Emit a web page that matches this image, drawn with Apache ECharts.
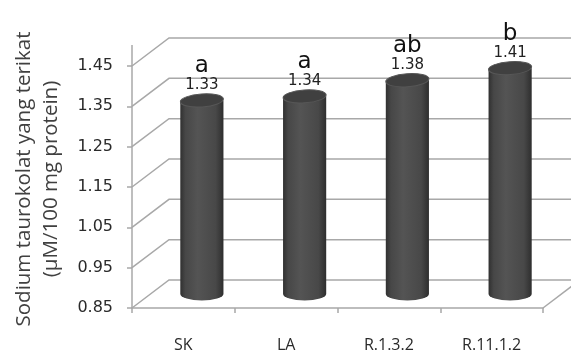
<!DOCTYPE html>
<html>
<head>
<meta charset="utf-8">
<script src="https://cdn.jsdelivr.net/npm/echarts@6/dist/echarts.min.js"></script>
<style>
  html, body { margin: 0; padding: 0; background: #fff; }
  #chart { width: 571px; height: 354px; }
</style>
</head>
<body>
<div id="chart"></div>
<script>
  var categories = ['SK', 'LA', 'R.1.3.2', 'R.11.1.2']
  var values = [1.33, 1.34, 1.38, 1.41]
  var letters = ['a', 'a', 'ab', 'b']
  var yTicks = [0.85, 0.95, 1.05, 1.15, 1.25, 1.35, 1.45]

  // depth of the fake 3D box (back wall offset)
  var DX = 37
  var DY = -28
  var gridColor = '#a8a8a8'

  var chart = echarts.init(document.getElementById('chart'))

  function renderWalls (params, api) {
    var cs = params.coordSys
    var y = api.coord([0, api.value(1)])[1]
    var left = cs.x
    var right = cs.x + cs.width
    var style = { stroke: gridColor, lineWidth: 1.5, fill: null }
    var children = [
      { type: 'polyline', shape: { points: [[left, y], [left + DX, y + DY], [right + DX, y + DY]] }, style: style }
    ]
    if (params.dataIndex === 0) {
      // right edge of the floor
      children.push({ type: 'line', shape: { x1: right, y1: y, x2: right + DX, y2: y + DY }, style: style })
    }
    if (params.dataIndex === yTicks.length - 1) {
      // front axis runs a bit above the top tick
      children.push({ type: 'line', shape: { x1: left, y1: y, x2: left, y2: y - 21 }, style: style })
    }
    return { type: 'group', children: children }
  }

  function renderBar (params, api) {
    var idx = api.value(0)
    var top = api.coord([idx, api.value(1)])
    var base = api.coord([idx, yTicks[0]])
    var w = api.size([1, 0])[0] * 0.42
    var rx = w / 2
    var ry = 6.5
    var cx = top[0] + DX / 2
    var ty = top[1] + DY / 2
    var by = base[1] + DY / 2
    var l = cx - rx
    var r = cx + rx
    var body = 'M' + l + ',' + ty + ' L' + l + ',' + by +
      ' A' + rx + ',' + ry + ' 0 0 0 ' + r + ',' + by +
      ' L' + r + ',' + ty + ' Z'
    var cap = 'M' + l + ',' + ty +
      ' A' + rx + ',' + ry + ' 0 1 0 ' + r + ',' + ty +
      ' A' + rx + ',' + ry + ' 0 1 0 ' + l + ',' + ty + ' Z'
    return {
      type: 'group',
      children: [
        {
          type: 'path',
          shape: { pathData: body },
          style: {
            fill: new echarts.graphic.LinearGradient(0, 0, 1, 0, [
              { offset: 0, color: '#303030' },
              { offset: 0.12, color: '#474747' },
              { offset: 0.4, color: '#545454' },
              { offset: 0.82, color: '#484848' },
              { offset: 1, color: '#2e2e2e' }
            ])
          }
        },
        {
          type: 'path',
          shape: { pathData: cap },
          rotation: 0.07,
          originX: cx,
          originY: ty,
          style: { fill: '#404040', stroke: '#575757', lineWidth: 1 }
        },
        {
          type: 'text',
          x: cx,
          y: ty - 8,
          style: {
            text: api.value(1).toFixed(2),
            fontFamily: 'DejaVu Sans',
            fontSize: 15,
            fill: '#222',
            align: 'center',
            verticalAlign: 'bottom'
          }
        },
        {
          type: 'text',
          x: cx,
          y: ty - 23,
          style: {
            text: letters[params.dataIndex],
            fontFamily: 'DejaVu Sans',
            fontSize: 23,
            fill: '#111',
            align: 'center',
            verticalAlign: 'bottom'
          }
        }
      ]
    }
  }

  var options = {
    backgroundColor: '#fff',
    animation: false,
    grid: { left: 132, right: 28, top: 66, bottom: 46 },
    graphic: [
      {
        type: 'text',
        x: 38,
        y: 179,
        rotation: Math.PI / 2,
        style: {
          text: 'Sodium taurokolat yang terikat\n(µM/100 mg protein)',
          fontFamily: 'Open Sans',
          fontSize: 20.5,
          lineHeight: 27,
          fill: '#404040',
          align: 'center',
          verticalAlign: 'middle'
        }
      }
    ],
    xAxis: {
      type: 'category',
      data: categories,
      axisLine: { lineStyle: { color: gridColor, width: 1.5 } },
      axisTick: { show: true, length: 5, lineStyle: { color: gridColor, width: 1.5 } },
      axisLabel: { margin: 29, fontFamily: 'Open Sans', fontSize: 16, color: '#2a2a2a' },
      splitLine: { show: false }
    },
    yAxis: {
      type: 'value',
      min: 0.85,
      max: 1.45,
      interval: 0.1,
      axisLine: { show: true, lineStyle: { color: gridColor, width: 1.5 } },
      axisTick: { show: true, length: 5, lineStyle: { color: gridColor, width: 1.5 } },
      axisLabel: {
        margin: 19,
        fontFamily: 'DejaVu Sans',
        fontSize: 16,
        color: '#2a2a2a',
        formatter: function (v) { return v.toFixed(2) }
      },
      splitLine: { show: false }
    },
    series: [
      {
        type: 'custom',
        z: 1,
        silent: true,
        clip: false,
        renderItem: renderWalls,
        data: yTicks.map(function (v) { return [0, v] })
      },
      {
        type: 'custom',
        z: 3,
        clip: false,
        renderItem: renderBar,
        data: values.map(function (v, i) { return [i, v] })
      }
    ]
  }
  chart.setOption(options)
</script>
</body>
</html>
